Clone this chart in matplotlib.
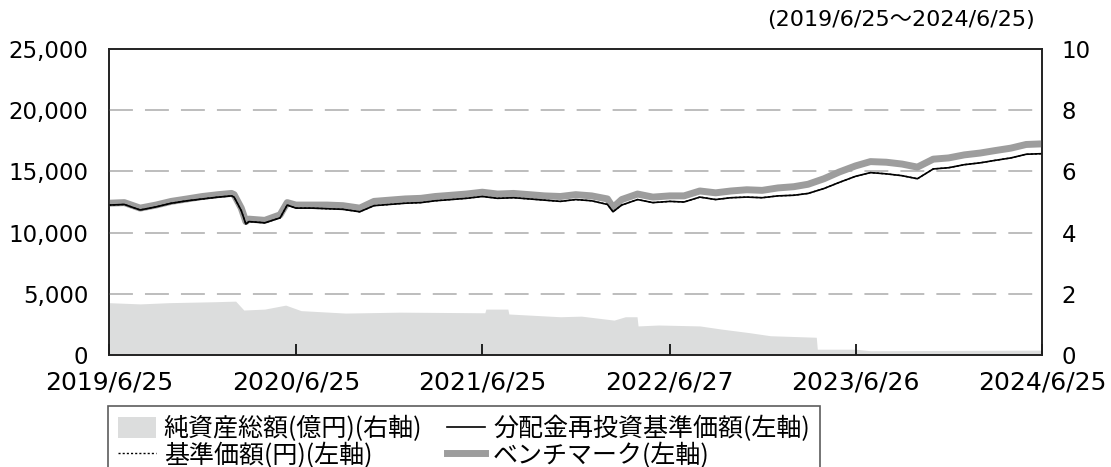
import pandas as pd
import matplotlib.pyplot as plt
from matplotlib.patches import Patch
from matplotlib.lines import Line2D
from matplotlib.ticker import FuncFormatter

plt.rcParams["font.family"] = ["DejaVu Sans", "Noto Sans CJK JP"]

# monthly readings (plus a few extra points around the 2020/2022 dips)
price_dates = [
    "2019-06-25", "2019-07-25", "2019-08-25", "2019-09-25", "2019-10-25", "2019-11-25",
    "2019-12-25", "2020-01-25", "2020-02-20", "2020-02-25", "2020-03-10", "2020-03-19",
    "2020-03-25", "2020-04-25", "2020-05-25", "2020-06-08", "2020-06-25", "2020-07-25",
    "2020-08-25", "2020-09-25", "2020-10-28", "2020-11-25", "2020-12-25", "2021-01-25",
    "2021-02-25", "2021-03-25", "2021-04-25", "2021-05-25", "2021-06-25", "2021-07-25",
    "2021-08-25", "2021-09-25", "2021-10-25", "2021-11-25", "2021-12-25", "2022-01-25",
    "2022-02-25", "2022-03-08", "2022-03-25", "2022-04-25", "2022-05-25", "2022-06-27",
    "2022-07-25", "2022-08-25", "2022-09-25", "2022-10-25", "2022-11-25", "2022-12-25",
    "2023-01-25", "2023-02-25", "2023-03-25", "2023-04-25", "2023-05-25", "2023-06-26",
    "2023-07-25", "2023-08-25", "2023-09-25", "2023-10-25", "2023-11-25", "2023-12-25",
    "2024-01-25", "2024-02-25", "2024-03-25", "2024-04-25", "2024-05-25", "2024-06-25",
]
nav_reinvested = [
    12250, 12300, 11850, 12100, 12400, 12600,
    12750, 12900, 13000, 12900, 11800, 10700,
    10900, 10800, 11200, 12250, 12000, 12000,
    11950, 11900, 11700, 12200, 12300, 12400,
    12450, 12600, 12700, 12800, 12950, 12800,
    12850, 12750, 12650, 12550, 12700, 12600,
    12300, 11700, 12250, 12700, 12450, 12550,
    12500, 12900, 12700, 12850, 12900, 12850,
    13000, 13050, 13200, 13600, 14100, 14600,
    14900, 14800, 14650, 14400, 15200, 15300,
    15550, 15700, 15900, 16100, 16400, 16450,
]
nav = nav_reinvested  # no distributions paid, the two lines coincide
benchmark = [
    12400, 12450, 12000, 12250, 12550, 12750,
    12950, 13100, 13200, 13100, 12000, 10900,
    11100, 11000, 11450, 12450, 12250, 12250,
    12250, 12200, 12000, 12550, 12650, 12750,
    12800, 12950, 13050, 13150, 13300, 13150,
    13200, 13100, 13000, 12950, 13100, 13000,
    12750, 12050, 12700, 13150, 12900, 13000,
    13000, 13400, 13250, 13400, 13500, 13450,
    13650, 13750, 13950, 14400, 14950, 15450,
    15800, 15750, 15600, 15350, 16000, 16100,
    16350, 16500, 16700, 16900, 17200, 17250,
]

asset_dates = [
    "2019-06-25", "2019-08-25", "2019-10-20", "2020-01-15", "2020-02-28", "2020-03-15",
    "2020-04-25", "2020-06-05", "2020-07-05", "2020-09-30", "2021-01-15", "2021-06-30",
    "2021-07-02", "2021-08-14", "2021-08-16", "2021-11-25", "2022-01-05", "2022-03-10",
    "2022-04-01", "2022-04-24", "2022-04-26", "2022-06-05", "2022-08-25", "2022-10-05",
    "2022-11-30", "2023-01-10", "2023-04-10", "2023-04-12", "2023-06-25", "2023-07-25",
    "2024-06-25",
]
net_assets = [
    1.71, 1.67, 1.71, 1.74, 1.76, 1.47,
    1.50, 1.63, 1.45, 1.37, 1.40, 1.38,
    1.50, 1.50, 1.34, 1.25, 1.27, 1.14,
    1.25, 1.25, 0.95, 0.98, 0.95, 0.85,
    0.73, 0.63, 0.58, 0.19, 0.19, 0.14,
    0.16,
]

tick_dates = ["2019-06-25", "2020-06-25", "2021-06-25", "2022-06-27", "2023-06-26", "2024-06-25"]
tick_labels = ["2019/6/25", "2020/6/25", "2021/6/25", "2022/6/27", "2023/6/26", "2024/6/25"]

pd_dates = pd.to_datetime(price_dates)
ad_dates = pd.to_datetime(asset_dates)

fig = plt.figure(figsize=(11.11, 4.67), dpi=100)
ax = fig.add_axes([109 / 1111, 1 - 355 / 467, (1042 - 109) / 1111, (355 - 49) / 467])
ax2 = ax.twinx()
ax.set_zorder(ax2.get_zorder() + 1)
ax.patch.set_visible(False)

ax2.fill_between(ad_dates, 0, net_assets, color="#dcdddd", lw=0)
ax2.set_ylim(0, 10)
ax2.set_yticks([0, 2, 4, 6, 8, 10])

for y in [5000, 10000, 15000, 20000]:
    ax.axhline(y, color="#bdbdbd", lw=1.4, dashes=(12.3, 6.2), zorder=0)

ax.plot(pd_dates, benchmark, color="#9d9d9d", lw=5, solid_joinstyle="round")
ax.plot(pd_dates, nav, color="black", lw=1.0, linestyle=(0, (1.5, 1.5)))
ax.plot(pd_dates, nav_reinvested, color="black", lw=1.2)

ax.set_ylim(0, 25000)
ax.set_yticks(range(0, 25001, 5000))
ax.yaxis.set_major_formatter(FuncFormatter(lambda v, p: f"{int(v):,}"))
ax.set_xlim(pd.Timestamp("2019-06-25"), pd.Timestamp("2024-06-25"))
ax.set_xticks(pd.to_datetime(tick_dates))
ax.set_xticklabels(tick_labels)

for a in (ax, ax2):
    for s in a.spines.values():
        s.set_linewidth(1.2)
        s.set_color("#222222")
ax.tick_params(axis="x", direction="in", length=8, width=1.2, labelsize=18, pad=11)
ax.tick_params(axis="y", length=0, labelsize=16.5, pad=15)
ax2.tick_params(axis="y", length=0, labelsize=16.5, pad=14)

fig.text(1035 / 1111, 1 - 20 / 467, "(2019/6/25～2024/6/25)", ha="right", va="center", fontsize=16)

handles = [
    Patch(facecolor="#dcdddd", edgecolor="none"),
    Line2D([], [], color="black", lw=1.0, linestyle=(0, (1.5, 1.5))),
    Line2D([], [], color="black", lw=1.2),
    Line2D([], [], color="#9d9d9d", lw=5),
]
labels = ["純資産総額(億円)(右軸)", "基準価額(円)(左軸)", "分配金再投資基準価額(左軸)", "ベンチマーク(左軸)"]
leg = fig.legend(handles, labels, ncol=2, loc="upper left", bbox_to_anchor=(108 / 1111, 1 - 406 / 467),
                 borderaxespad=0, prop={"family": "Noto Sans CJK JP", "size": 18}, frameon=True,
                 fancybox=False, handlelength=1.5, handleheight=0.9, handletextpad=0.33,
                 columnspacing=1.0, labelspacing=0.0, borderpad=0.4)
leg.get_frame().set_edgecolor("#333333")
leg.get_frame().set_linewidth(1.2)

fig.savefig("out.png", dpi=100)
